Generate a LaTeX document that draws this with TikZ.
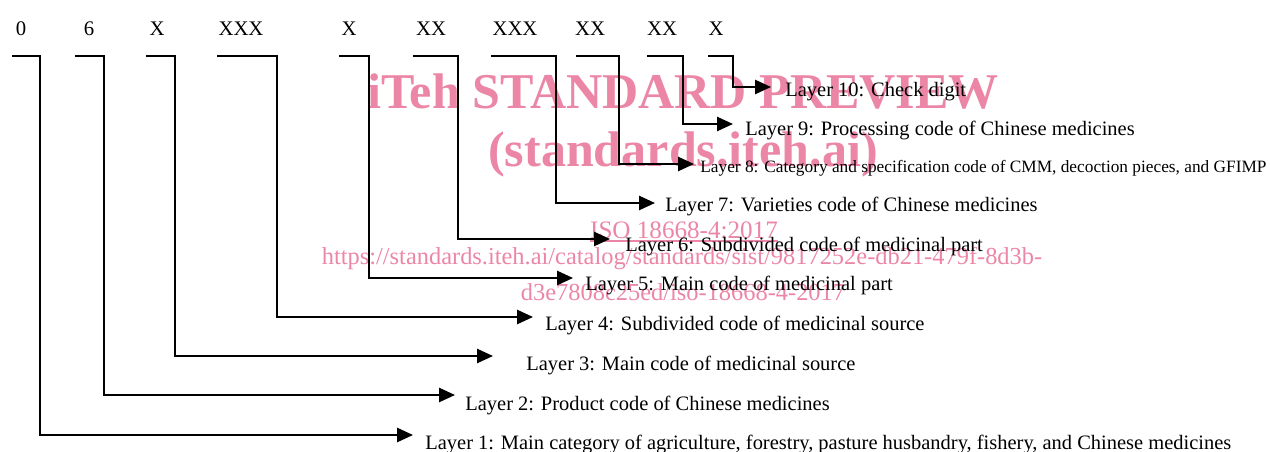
\documentclass[tikz,border=0pt]{standalone}
\usepackage{fontspec}
\setmainfont{Liberation Serif}
\usetikzlibrary{arrows.meta}
\definecolor{itehpink}{RGB}{236,134,166}

\begin{document}
\begin{tikzpicture}[x=0.02cm, y=-0.02cm,
    code/.style={font=\fontsize{11.8}{13}\selectfont, inner sep=0pt, anchor=base},
    layer/.style={font=\fontsize{11.65}{13}\selectfont, inner sep=0pt, anchor=base west},
    link/.style={line width=1.15pt, -{Triangle[length=9pt,width=8pt]}},
    wmark/.style={text=itehpink, inner sep=0pt, anchor=base}]
    \useasboundingbox (0,0) rectangle (1270,452);

    % Preview stamp behind the diagram
    \node[wmark, font=\bfseries\fontsize{28.5}{30}\selectfont] (wm1) at (683,109) {iTeh STANDARD PREVIEW};
    \node[wmark, font=\bfseries\fontsize{28.5}{30}\selectfont] (wm2) at (683,167) {(standards.iteh.ai)};
    \node[wmark, font=\fontsize{14.3}{16}\selectfont] (iso) at (684,239) {ISO 18668-4:2017};
    \draw[itehpink, line width=0.6pt] (iso.base west) ++(0,2) -- ++(188,0);
    \node[wmark, font=\fontsize{13.9}{16}\selectfont] (url1) at (682,265) {https://standards.iteh.ai/catalog/standards/sist/9817252e-db21-479f-8d3b-};
    \node[wmark, font=\fontsize{13.9}{16}\selectfont] (url2) at (683,300) {d3e7808c25ed/iso-18668-4-2017};

    % Code digits
    \foreach \n/\x/\t in {1/21/0, 2/89/6, 3/157/X, 4/241/XXX, 5/349/X,
                          6/431/XX, 7/515/XXX, 8/590/XX, 9/662/XX, 10/716/X} {
        \node[code] (d\n) at (\x,36) {\t};
    }

    % Layer descriptions
    \foreach \n/\x/\y/\t in {
        1/425/449/{Layer 1: Main category of agriculture, forestry, pasture husbandry, fishery, and Chinese medicines},
        2/465/410/{Layer 2: Product code of Chinese medicines},
        3/526/370/{Layer 3: Main code of medicinal source},
        4/545/331/{Layer 4: Subdivided code of medicinal source},
        5/585/291/{Layer 5: Main code of medicinal part},
        6/625/252/{Layer 6: Subdivided code of medicinal part},
        7/665/212/{Layer 7: Varieties code of Chinese medicines},
        9/745/136/{Layer 9: Processing code of Chinese medicines},
        10/785/97/{Layer 10: Check digit}} {
        \node[layer] (l\n) at (\x,\y) {\t};
    }
    \node[layer, font=\fontsize{9.85}{12}\selectfont] (l8) at (700,173)
        {Layer 8: Category and specification code of CMM, decoction pieces, and GFIMP};

    % Brackets from each code group down to its layer
    \foreach \n/\xs/\xv/\yr/\xe in {1/12/40/435/413, 2/75/104/395/455, 3/146/175/356/493,
                                   4/217/277/317/533, 5/339/369/278/573, 6/413/458/239/610,
                                   7/491/556/203/655, 8/576/619/164/694, 9/647/683/124/733,
                                   10/708/733/87/771} {
        \coordinate (s\n) at (\xs,56);
        \coordinate (e\n) at (\xe,\yr);
        \draw[link] (s\n) -- (\xv,56) |- (e\n);
    }
\end{tikzpicture}
\end{document}
